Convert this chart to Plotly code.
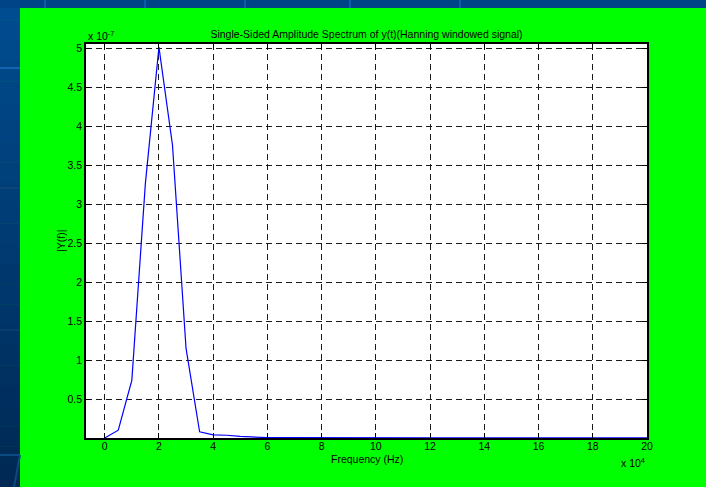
import plotly.graph_objects as go

# Frequency axis in units of 1e4 Hz
freq_e4 = [0, 0.5, 1, 1.5, 2, 2.5, 3, 3.5, 4, 4.5, 5, 5.5, 6, 6.5, 7, 7.5, 8, 8.5, 9, 9.5,
           10, 10.5, 11, 11.5, 12, 12.5, 13, 13.5, 14, 14.5, 15, 15.5, 16, 16.5, 17, 17.5,
           18, 18.5, 19, 19.5, 20]
# Amplitude in units of 1e-7
amp_e7 = [0.0, 0.10, 0.74, 3.27, 5.02, 3.76, 1.15, 0.08, 0.04, 0.035, 0.02, 0.01, 0.005,
          0.004, 0.003, 0.003, 0.003, 0.002, 0.002, 0.002, 0.002, 0.002, 0.002, 0.002,
          0.001, 0.001, 0.001, 0.001, 0.001, 0.001, 0.001, 0.001, 0.001, 0.001, 0.001,
          0.001, 0.001, 0.001, 0.001, 0.001, 0.001]

xtick_vals = [0, 2, 4, 6, 8, 10, 12, 14, 16, 18, 20]
xtick_text = ["0", "2", "4", "6", "8", "10", "12", "14", "16", "18", "20"]
ytick_vals = [0.5, 1, 1.5, 2, 2.5, 3, 3.5, 4, 4.5, 5]
ytick_text = ["0.5", "1", "1.5", "2", "2.5", "3", "3.5", "4", "4.5", "5"]

freq_hz = [f * 1e4 for f in freq_e4]
amp = [a * 1e-7 for a in amp_e7]

W, H = 706, 487
L, R, T, B = 86, 647, 44, 438
PW, PH = R - L, B - T


def px(X):
    return (X - L) / PW


def py(Y):
    return (B - Y) / PH


FONT = "Liberation Sans, Arial, sans-serif"

fig = go.Figure()
fig.add_trace(go.Scatter(x=freq_hz, y=amp, mode="lines",
                         line=dict(color="#0000ff", width=1.2), showlegend=False))

grid = dict(showgrid=True, gridcolor="#1a1a1a", gridwidth=1, griddash="6px,4px")

fig.update_layout(
    width=W, height=H,
    margin=dict(l=L, r=W - R, t=T, b=H - B, pad=0),
    paper_bgcolor="#00ff00",
    plot_bgcolor="#ffffff",
    font=dict(family=FONT, size=10.5, color="#000000"),
    title=dict(text="Single-Sided Amplitude Spectrum of y(t)(Hanning windowed signal)",
               x=0.5, xref="paper", xanchor="center", y=1 - 34 / H, yanchor="middle",
               font=dict(family=FONT, size=10.5, color="#000000")),
    xaxis=dict(range=[-0.69e4, 20e4], tickvals=[v * 1e4 for v in xtick_vals],
               ticktext=xtick_text, ticks="inside", ticklen=5, tickcolor="#000",
               ticklabelstandoff=-2,
               showline=True, linecolor="#000", linewidth=1.5, mirror="ticks",
               zeroline=False, **grid),
    yaxis=dict(range=[0, 5.06e-7], tickvals=[v * 1e-7 for v in ytick_vals],
               ticktext=ytick_text, ticks="inside", ticklen=5, tickcolor="#000",
               showline=True, linecolor="#000", linewidth=1.5, mirror="ticks",
               zeroline=False, **grid),
)

# Axis titles and exponent labels
fig.add_annotation(text="Frequency (Hz)", xref="paper", yref="paper", x=0.5, y=py(459),
                   xanchor="center", yanchor="middle", showarrow=False)
fig.add_annotation(text="|Y(f)|", xref="paper", yref="paper", x=px(61), y=py(241),
                   xanchor="center", yanchor="middle", textangle=-90, showarrow=False)
fig.add_annotation(text="x 10<sup>-7</sup>", xref="paper", yref="paper", x=0, y=py(36),
                   xanchor="left", yanchor="middle", showarrow=False)
fig.add_annotation(text="x 10<sup>4</sup>", xref="paper", yref="paper", x=px(647), y=py(462),
                   xanchor="right", yanchor="middle", showarrow=False)

# Slide background strips (blue) outside the green figure frame
shapes = []
nb = 24
for i in range(nb):
    t = i / (nb - 1)
    g = int(0x4c * (1 - t) + 0x2a * t)
    b = int(0x90 * (1 - t) + 0x55 * t)
    y0 = H * i / nb
    y1 = H * (i + 1) / nb + 0.5
    shapes.append(dict(type="rect", xref="paper", yref="paper", x0=px(0), x1=px(20),
                       y0=py(y1), y1=py(y0), line=dict(width=0),
                       fillcolor=f"rgb(0,{g},{b})", layer="below"))
shapes.append(dict(type="rect", xref="paper", yref="paper", x0=px(0), x1=px(W),
                   y0=py(8), y1=py(0), line=dict(width=0), fillcolor="#004488", layer="below"))
for X in [45, 145, 245, 350, 460]:
    shapes.append(dict(type="line", xref="paper", yref="paper", x0=px(X), x1=px(X),
                       y0=py(8), y1=py(0), line=dict(width=2, color="#0d5cab"), layer="below"))
for Y, c in [(68, "#1464b4"), (188, "#0a4478"), (330, "#0c3d6c"), (455, "#0c4a82")]:
    shapes.append(dict(type="line", xref="paper", yref="paper", x0=px(0), x1=px(20),
                       y0=py(Y), y1=py(Y), line=dict(width=2, color=c), layer="below"))
shapes.append(dict(type="line", xref="paper", yref="paper", x0=px(14), x1=px(20),
                   y0=py(487), y1=py(455), line=dict(width=2, color="#0c4a82"), layer="below"))
fig.update_layout(shapes=shapes)

fig.write_html("out.html")
